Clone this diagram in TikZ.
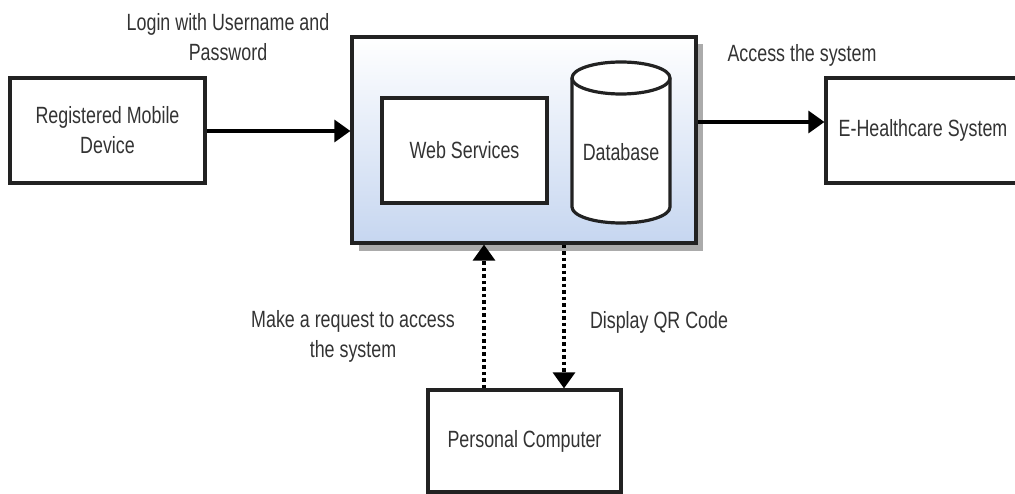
\documentclass[tikz,border=0pt]{standalone}
\usepackage{fontspec}
\setmainfont{Liberation Sans}[FakeStretch=0.76]
\usetikzlibrary{arrows.meta}
\definecolor{edge}{HTML}{222222}
\definecolor{ink}{HTML}{333333}
\definecolor{panelblue}{HTML}{C6D6F0}
\definecolor{shadowgray}{HTML}{ABABAB}
\tikzset{
  box/.style={draw=edge, line width=3.2pt, fill=white, inner sep=0pt, align=center,
    text=ink, font=\fontsize{23.5}{30}\selectfont},
  lbl/.style={inner sep=0pt, align=center, text=ink, font=\fontsize{23.5}{30}\selectfont},
  flow/.style={draw=black, line width=3.2pt, -{Triangle[length=16pt,width=22pt]}},
  dotflow/.style={draw=black, line width=3.2pt, dash pattern=on 3.5pt off 3pt,
    -{Triangle[length=16pt,width=22pt]}},
}
\begin{document}
\begin{tikzpicture}[x=1pt,y=-1pt]
  \useasboundingbox (0,0) rectangle (1015,494);
  \clip (0,0) rectangle (1015,494);

  % server panel with drop shadow and vertical gradient
  \fill[shadowgray] (359,44) rectangle (703,251);
  \node[draw=edge, line width=3.2pt, top color=white, bottom color=panelblue,
        minimum width=344pt, minimum height=206pt, inner sep=0pt] (srv) at (524,140) {};

  % inner components
  \node[box, minimum width=165pt, minimum height=105pt] (ws) at (464.5,150.5) {Web Services};
  \coordinate (db) at (621,142.5);
  \draw[edge, line width=3.2pt, fill=white]
    (572,78) -- (572,207) arc[start angle=180, end angle=0, x radius=49, y radius=16]
    -- (670,78) arc[start angle=0, end angle=-180, x radius=49, y radius=16] -- cycle;
  \draw[edge, line width=3.2pt]
    (572,78) arc[start angle=180, end angle=0, x radius=49, y radius=16];
  \node[lbl] (dbtext) at (db) [yshift=-10pt] {Database};

  % outer actors
  \node[box, minimum width=195pt, minimum height=105pt] (rmd) at (107.5,130.5) {Registered Mobile\\Device};
  \node[box, minimum width=194pt, minimum height=105pt] (eh) at (923,130.5) {E-Healthcare System};
  \node[box, minimum width=193pt, minimum height=102pt] (pc) at (524.5,441) {Personal Computer};

  % connectors
  \draw[flow] (rmd.east |- 0,131) -- (srv.west |- 0,131);
  \draw[flow] (srv.east |- 0,122) -- (eh.west |- 0,122);
  \draw[dotflow] (pc.north -| 484,0) -- (srv.south -| 484,0);
  \draw[dotflow] (srv.south -| 564,0) -- (pc.north -| 564,0);

  % connector labels
  \node[lbl] (l1) at (228,37) {Login with Username and\\Password};
  \node[lbl] (l2) at (802,55) {Access the system};
  \node[lbl] (l3) at (353,336) {Make a request to access\\the system};
  \node[lbl] (l4) at (659,322) {Display QR Code};
\end{tikzpicture}
\end{document}
